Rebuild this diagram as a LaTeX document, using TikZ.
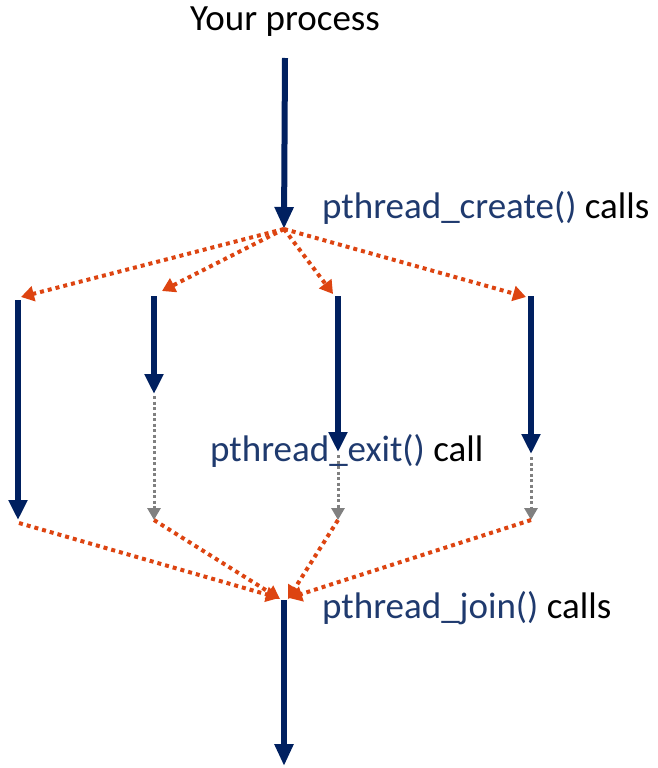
\documentclass[tikz,border=0pt]{standalone}
\usepackage{fontspec}
\setmainfont{Carlito}
\usetikzlibrary{arrows.meta}
\definecolor{navy}{HTML}{002060}
\definecolor{fnblue}{HTML}{1F3A6E}
\definecolor{forkorange}{HTML}{DD4411}
\definecolor{idlegrey}{HTML}{808080}
\tikzset{
  flow/.style={draw=navy, line width=6pt, -{Triangle[length=22pt,width=18pt]}},
  thread/.style={draw=navy, line width=6pt, line cap=butt, -{Triangle[length=20pt,width=18pt]}},
  spawn/.style={draw=forkorange, line width=4pt, dash pattern=on 4pt off 4pt, -{Triangle[length=13pt,width=15pt]}},
  idle/.style={draw=idlegrey, line width=3pt, dash pattern=on 3pt off 2.5pt, -{Triangle[length=12pt,width=13pt]}},
  label/.style={font=\fontsize{37}{42}\selectfont, inner sep=0pt},
}
\begin{document}
\begin{tikzpicture}[x=1pt, y=-1pt]
\useasboundingbox (0,0) rectangle (657,768);
% main process
\coordinate (top) at (285,58);
\coordinate (fork) at (284,229);
\coordinate (join) at (284,600);
\coordinate (bottom) at (284,766);
% thread starts
\coordinate (s1) at (18,300);
\coordinate (s2) at (154,296);
\coordinate (s3) at (338,296);
\coordinate (s4) at (531,296);
% spawn arrow tips
\coordinate (a1) at (21,297);
\coordinate (a2) at (162,291);
\coordinate (a3) at (333,294);
\coordinate (a4) at (526,297);
% work ends
\coordinate (w1) at (18,520);
\coordinate (w2) at (154,394);
\coordinate (w3) at (338,452);
\coordinate (w4) at (531,454);
% thread ends
\coordinate (e1) at (19,523);
\coordinate (e2) at (154,520);
\coordinate (e3) at (338,520);
\coordinate (e4) at (531,520);
\coordinate (g2) at (154,396);
\coordinate (g3) at (338,455);
\coordinate (g4) at (531,457);

\node[label, anchor=center] (title) at (285,22) {Your process};
\node[label, anchor=west] (create) at (322,208) {\textcolor{fnblue}{pthread\_create()} calls};
\node[label, anchor=west] (exit) at (210,451) {\textcolor{fnblue}{pthread\_exit()} call};
\node[label, anchor=west] (joinlbl) at (322,608) {\textcolor{fnblue}{pthread\_join()} calls};

\draw[flow] (top) -- (fork);
\foreach \i in {1,2,3,4}{
  \draw[spawn] (fork) -- (a\i);
}
\foreach \i in {1,2,3,4}{
  \draw[thread] (s\i) -- (w\i);
}
\foreach \i in {2,3,4}{
  \draw[idle] (g\i) -- (e\i);
}
\draw[spawn] (e1) -- (279,598);
\draw[spawn] (e2) -- (280,599);
\draw[spawn] (e3) -- (288,599);
\draw[spawn] (e4) -- (289,598);
\draw[flow] (join) -- (bottom);
\end{tikzpicture}
\end{document}
